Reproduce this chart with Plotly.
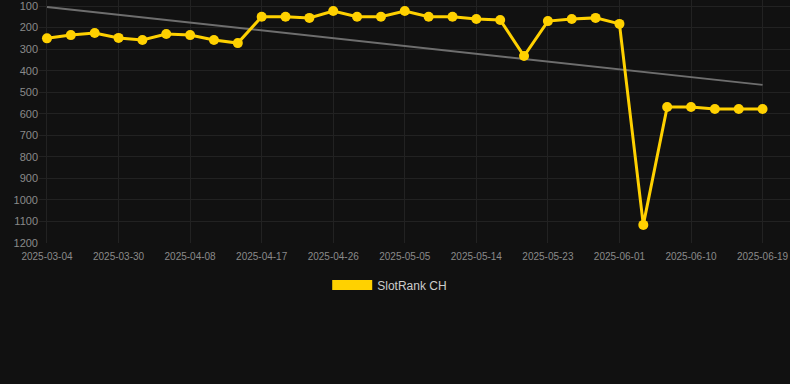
import plotly.graph_objects as go

dates = ["2025-03-04", "2025-03-24", "2025-03-27", "2025-03-30", "2025-04-02", "2025-04-05",
         "2025-04-08", "2025-04-11", "2025-04-14", "2025-04-17", "2025-04-20", "2025-04-23",
         "2025-04-26", "2025-04-29", "2025-05-02", "2025-05-05", "2025-05-08", "2025-05-11",
         "2025-05-14", "2025-05-17", "2025-05-20", "2025-05-23", "2025-05-26", "2025-05-29",
         "2025-06-01", "2025-06-04", "2025-06-07", "2025-06-10", "2025-06-13", "2025-06-16",
         "2025-06-19"]
ranks = [250, 235, 225, 248, 258, 230, 235, 258, 272, 150, 150, 155, 123, 150, 150, 123,
         150, 150, 160, 165, 332, 170, 160, 155, 183, 1116, 569, 569, 578, 578, 578]
trend_x = ["2025-03-04", "2025-06-19"]
trend_y = [105, 466]
tick_labels = ["2025-03-04", "2025-03-30", "2025-04-08", "2025-04-17", "2025-04-26", "2025-05-05",
               "2025-05-14", "2025-05-23", "2025-06-01", "2025-06-10", "2025-06-19"]
y_ticks = [100, 200, 300, 400, 500, 600, 700, 800, 900, 1000, 1100, 1200]

GOLD = "#FFD100"

fig = go.Figure()
fig.add_trace(go.Scatter(x=trend_x, y=trend_y, mode="lines",
                         line=dict(color="#6e6e6e", width=2), showlegend=False, hoverinfo="skip"))
fig.add_trace(go.Scatter(x=dates, y=ranks, mode="lines+markers", name="SlotRank CH",
                         line=dict(color=GOLD, width=3), marker=dict(color=GOLD, size=10),
                         showlegend=False))
fig.add_trace(go.Scatter(x=[None], y=[None], mode="lines", name="SlotRank CH",
                         line=dict(color=GOLD, width=11), showlegend=True))

fig.update_layout(
    width=790, height=384,
    margin=dict(l=39, r=0, t=0, b=141),
    paper_bgcolor="#111111", plot_bgcolor="#111111",
    font=dict(family="Liberation Sans, Arial, sans-serif", color="#999999"),
    xaxis=dict(type="category", categoryorder="array", categoryarray=dates,
               range=[-0.335, 31.15], tickmode="array", tickvals=tick_labels, ticktext=tick_labels,
               showgrid=True, gridcolor="#222222", gridwidth=1, zeroline=False, showline=False,
               tickfont=dict(size=10, color="#8a8a8a"), ticks="", tickangle=0,
               ticklabelstandoff=6, ticklabeloverflow="allow"),
    yaxis=dict(range=[1200, 72], tickmode="array", tickvals=y_ticks,
               showgrid=True, gridcolor="#222222", gridwidth=1, zeroline=False, showline=False,
               tickfont=dict(size=11, color="#8a8a8a"), ticks="", ticklabeloverflow="allow"),
    legend=dict(orientation="h", x=0.467, xanchor="center", y=-0.173, yanchor="middle",
                font=dict(size=12, color="#cccccc"), itemwidth=40, bgcolor="rgba(0,0,0,0)"),
    showlegend=True,
)

fig.write_html("out.html", config={"displayModeBar": False},
               post_script="document.body.style.margin='0';document.body.style.background='#111111';")
